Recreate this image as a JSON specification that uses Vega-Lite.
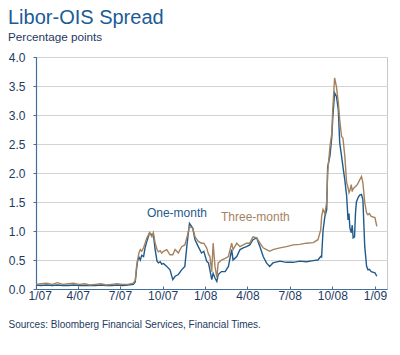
{
  "$schema": "https://vega.github.io/schema/vega-lite/v6.json",
  "width": 351,
  "height": 232,
  "autosize": {"type": "none"},
  "padding": {"left": 36, "top": 57, "right": 13, "bottom": 66},
  "background": "white",
  "config": {
    "font": "Liberation Sans",
    "view": {"stroke": "#c8c8c8", "strokeWidth": 1}
  },
  "title": {
    "text": "Libor-OIS Spread",
    "subtitle": "Percentage points",
    "anchor": "start",
    "frame": "group",
    "dx": -28,
    "fontSize": 20,
    "fontWeight": "normal",
    "color": "#1b5c97",
    "subtitleFontSize": 11.7,
    "subtitleColor": "#1e3a5f",
    "subtitlePadding": 4,
    "offset": 7
  },
  "data": {
    "values": [
      {"date": "2007-01-01", "one": 0.07, "three": 0.08},
      {"date": "2007-01-12", "one": 0.06, "three": 0.09},
      {"date": "2007-01-24", "one": 0.07, "three": 0.10},
      {"date": "2007-02-05", "one": 0.06, "three": 0.08},
      {"date": "2007-02-16", "one": 0.07, "three": 0.11},
      {"date": "2007-02-28", "one": 0.06, "three": 0.08},
      {"date": "2007-03-12", "one": 0.06, "three": 0.09},
      {"date": "2007-03-23", "one": 0.07, "three": 0.10},
      {"date": "2007-04-04", "one": 0.06, "three": 0.08},
      {"date": "2007-04-16", "one": 0.06, "three": 0.09},
      {"date": "2007-04-27", "one": 0.06, "three": 0.07},
      {"date": "2007-05-09", "one": 0.06, "three": 0.08},
      {"date": "2007-05-21", "one": 0.07, "three": 0.09},
      {"date": "2007-06-01", "one": 0.06, "three": 0.07},
      {"date": "2007-06-13", "one": 0.06, "three": 0.08},
      {"date": "2007-06-25", "one": 0.07, "three": 0.09},
      {"date": "2007-07-06", "one": 0.06, "three": 0.08},
      {"date": "2007-07-18", "one": 0.07, "three": 0.08},
      {"date": "2007-07-30", "one": 0.08, "three": 0.10},
      {"date": "2007-08-03", "one": 0.12, "three": 0.15},
      {"date": "2007-08-06", "one": 0.35, "three": 0.40},
      {"date": "2007-08-08", "one": 0.48, "three": 0.50},
      {"date": "2007-08-11", "one": 0.55, "three": 0.62},
      {"date": "2007-08-14", "one": 0.50, "three": 0.68},
      {"date": "2007-08-17", "one": 0.58, "three": 0.65},
      {"date": "2007-08-21", "one": 0.56, "three": 0.71},
      {"date": "2007-08-24", "one": 0.70, "three": 0.78},
      {"date": "2007-08-28", "one": 0.82, "three": 0.88},
      {"date": "2007-09-03", "one": 0.97, "three": 0.97},
      {"date": "2007-09-08", "one": 0.93, "three": 0.90},
      {"date": "2007-09-11", "one": 0.95, "three": 0.97},
      {"date": "2007-09-15", "one": 0.68, "three": 0.79},
      {"date": "2007-09-19", "one": 0.48, "three": 0.68},
      {"date": "2007-09-22", "one": 0.45, "three": 0.64},
      {"date": "2007-09-26", "one": 0.47, "three": 0.66},
      {"date": "2007-09-29", "one": 0.43, "three": 0.62},
      {"date": "2007-10-03", "one": 0.44, "three": 0.65},
      {"date": "2007-10-10", "one": 0.39, "three": 0.68},
      {"date": "2007-10-17", "one": 0.33, "three": 0.59},
      {"date": "2007-10-23", "one": 0.16, "three": 0.59},
      {"date": "2007-10-28", "one": 0.22, "three": 0.68},
      {"date": "2007-11-04", "one": 0.25, "three": 0.62},
      {"date": "2007-11-11", "one": 0.33, "three": 0.73},
      {"date": "2007-11-18", "one": 0.39, "three": 0.76},
      {"date": "2007-11-23", "one": 0.79, "three": 0.90},
      {"date": "2007-11-28", "one": 1.13, "three": 1.08},
      {"date": "2007-12-05", "one": 1.05, "three": 1.05},
      {"date": "2007-12-10", "one": 0.85, "three": 0.90},
      {"date": "2007-12-17", "one": 0.73, "three": 0.82},
      {"date": "2007-12-24", "one": 0.62, "three": 0.79},
      {"date": "2007-12-29", "one": 0.65, "three": 0.79},
      {"date": "2008-01-04", "one": 0.48, "three": 0.71},
      {"date": "2008-01-08", "one": 0.45, "three": 0.60},
      {"date": "2008-01-11", "one": 0.33, "three": 0.56},
      {"date": "2008-01-15", "one": 0.16, "three": 0.30},
      {"date": "2008-01-18", "one": 0.27, "three": 0.79},
      {"date": "2008-01-22", "one": 0.19, "three": 0.39},
      {"date": "2008-01-26", "one": 0.13, "three": 0.20},
      {"date": "2008-01-29", "one": 0.25, "three": 0.45},
      {"date": "2008-02-05", "one": 0.30, "three": 0.50},
      {"date": "2008-02-13", "one": 0.30, "three": 0.53},
      {"date": "2008-02-20", "one": 0.39, "three": 0.56},
      {"date": "2008-02-27", "one": 0.68, "three": 0.79},
      {"date": "2008-03-01", "one": 0.50, "three": 0.68},
      {"date": "2008-03-09", "one": 0.56, "three": 0.79},
      {"date": "2008-03-16", "one": 0.68, "three": 0.73},
      {"date": "2008-03-23", "one": 0.71, "three": 0.76},
      {"date": "2008-03-30", "one": 0.73, "three": 0.79},
      {"date": "2008-04-06", "one": 0.76, "three": 0.79},
      {"date": "2008-04-13", "one": 0.85, "three": 0.90},
      {"date": "2008-04-21", "one": 0.88, "three": 0.88},
      {"date": "2008-04-28", "one": 0.73, "three": 0.79},
      {"date": "2008-05-05", "one": 0.56, "three": 0.71},
      {"date": "2008-05-12", "one": 0.45, "three": 0.68},
      {"date": "2008-05-19", "one": 0.39, "three": 0.65},
      {"date": "2008-05-26", "one": 0.45, "three": 0.68},
      {"date": "2008-06-10", "one": 0.48, "three": 0.71},
      {"date": "2008-06-24", "one": 0.46, "three": 0.73},
      {"date": "2008-07-09", "one": 0.46, "three": 0.76},
      {"date": "2008-07-23", "one": 0.48, "three": 0.77},
      {"date": "2008-08-06", "one": 0.47, "three": 0.79},
      {"date": "2008-08-21", "one": 0.49, "three": 0.80},
      {"date": "2008-08-31", "one": 0.50, "three": 0.85},
      {"date": "2008-09-06", "one": 0.56, "three": 1.02},
      {"date": "2008-09-08", "one": 0.55, "three": 1.25},
      {"date": "2008-09-11", "one": 1.00, "three": 1.37},
      {"date": "2008-09-15", "one": 1.25, "three": 1.30},
      {"date": "2008-09-19", "one": 1.37, "three": 1.50},
      {"date": "2008-09-21", "one": 2.10, "three": 2.00},
      {"date": "2008-09-26", "one": 2.30, "three": 2.46},
      {"date": "2008-09-30", "one": 2.62, "three": 2.69},
      {"date": "2008-10-02", "one": 2.95, "three": 3.09},
      {"date": "2008-10-06", "one": 3.38, "three": 3.64},
      {"date": "2008-10-10", "one": 3.32, "three": 3.49},
      {"date": "2008-10-14", "one": 3.09, "three": 3.21},
      {"date": "2008-10-17", "one": 2.52, "three": 2.92},
      {"date": "2008-10-21", "one": 2.29, "three": 2.63},
      {"date": "2008-10-24", "one": 2.11, "three": 2.60},
      {"date": "2008-10-28", "one": 1.88, "three": 2.29},
      {"date": "2008-11-01", "one": 1.60, "three": 1.83},
      {"date": "2008-11-04", "one": 1.19, "three": 1.75},
      {"date": "2008-11-06", "one": 1.30, "three": 1.66},
      {"date": "2008-11-08", "one": 1.05, "three": 1.70},
      {"date": "2008-11-11", "one": 0.97, "three": 1.80},
      {"date": "2008-11-13", "one": 1.10, "three": 1.68},
      {"date": "2008-11-15", "one": 0.88, "three": 1.73},
      {"date": "2008-11-18", "one": 0.90, "three": 1.75},
      {"date": "2008-11-20", "one": 1.30, "three": 1.77},
      {"date": "2008-11-22", "one": 1.50, "three": 1.78},
      {"date": "2008-11-26", "one": 1.58, "three": 1.83},
      {"date": "2008-11-29", "one": 1.62, "three": 1.88},
      {"date": "2008-12-03", "one": 1.63, "three": 1.94},
      {"date": "2008-12-06", "one": 1.54, "three": 1.83},
      {"date": "2008-12-10", "one": 0.73, "three": 1.49},
      {"date": "2008-12-14", "one": 0.39, "three": 1.31},
      {"date": "2008-12-17", "one": 0.33, "three": 1.28},
      {"date": "2008-12-20", "one": 0.34, "three": 1.30},
      {"date": "2008-12-24", "one": 0.30, "three": 1.25},
      {"date": "2009-01-01", "one": 0.28, "three": 1.23},
      {"date": "2009-01-05", "one": 0.22, "three": 1.08}
    ]
  },
  "encoding": {
    "x": {
      "field": "date",
      "type": "temporal",
      "scale": {
        "type": "utc",
        "domain": [
          {"year": 2007, "month": 1, "date": 1, "utc": true},
          {"year": 2009, "month": 1, "date": 27, "utc": true}
        ]
      },
      "axis": {
        "title": "Sources: Bloomberg Financial Services, Financial Times.",
        "titleFontSize": 10,
        "titleFontWeight": "normal",
        "titleColor": "#1e3a5f",
        "titleAnchor": "start",
        "titleAlign": "left",
        "titleBaseline": "alphabetic",
        "titleX": -28,
        "titleY": 38,
        "format": "%-m/%y",
        "tickCount": {"interval": "month", "step": 3},
        "labelFontSize": 12,
        "labelColor": "#1e3a5f",
        "labelFlush": true,
        "labelFlushOffset": 8,
        "labelPadding": 4,
        "labelOverlap": false,
        "tickSize": -3,
        "tickColor": "#3f6f9f",
        "domainColor": "#3f6f9f",
        "domainWidth": 1.2,
        "grid": false
      }
    },
    "y": {
      "field": "value",
      "type": "quantitative",
      "scale": {"domain": [0, 4], "nice": false},
      "axis": {
        "title": null,
        "values": [0, 0.5, 1, 1.5, 2, 2.5, 3, 3.5, 4],
        "format": ".1f",
        "labelOverlap": false,
        "labelFontSize": 12,
        "labelColor": "#1e3a5f",
        "labelPadding": 8,
        "tickSize": 3,
        "tickColor": "#3f6f9f",
        "domainColor": "#3f6f9f",
        "domainWidth": 1.2,
        "grid": true,
        "gridColor": "#d3d3d3",
        "gridWidth": 1.2
      }
    },
    "color": {
      "field": "series",
      "type": "nominal",
      "scale": {"domain": ["one", "three"], "range": ["#1f5a8c", "#a5825f"]},
      "legend": null
    }
  },
  "layer": [
    {
      "transform": [{"fold": ["one", "three"], "as": ["series", "value"]}],
      "mark": {"type": "line", "strokeWidth": 1.4, "interpolate": "linear"}
    },
    {
      "data": {
        "values": [
          {"date": "2007-11-01", "value": 1.25, "label": "One-month", "series": "one"},
          {"date": "2008-04-18", "value": 1.18, "label": "Three-month", "series": "three"}
        ]
      },
      "mark": {"type": "text", "fontSize": 12, "align": "center", "baseline": "alphabetic"},
      "encoding": {
        "text": {"field": "label"}
      }
    }
  ]
}
